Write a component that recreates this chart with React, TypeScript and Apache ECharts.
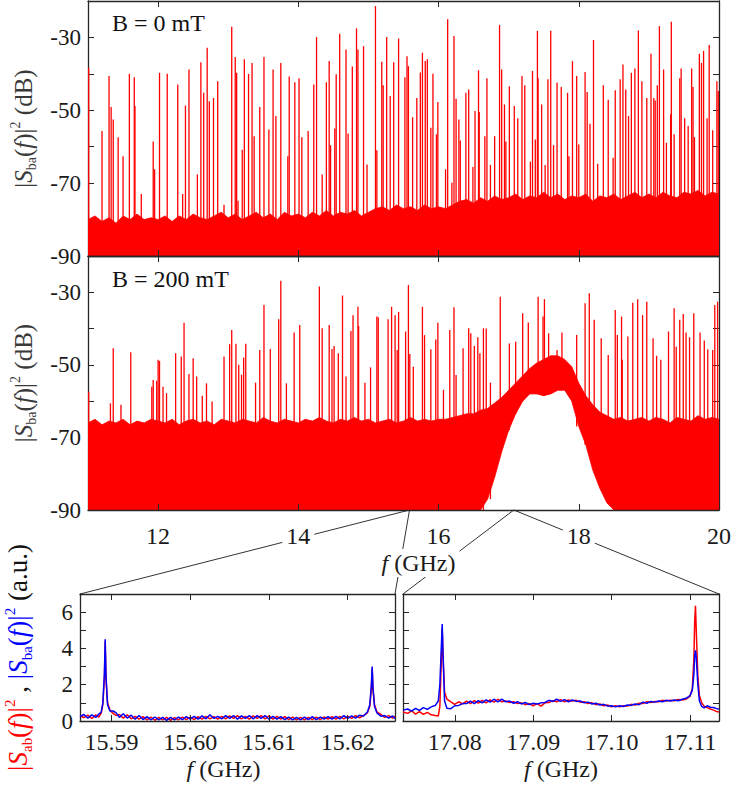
import React, { useEffect, useRef } from 'react';
import * as echarts from 'echarts';

const FONT = 'Liberation Serif, Times New Roman, serif';
const RED = '#ff0000';
const BLUE = '#0000ff';
const INK = '#1a1a1a';
const TITLE = '#3a3a3a';
const FRAME = '#262626';

// ---------- upper panels (dB spectra) ----------
const F_RANGE = [11, 20];
const DB_RANGE = [-90, -20];
const F_TICKS = [12, 14, 16, 18, 20];
const DB_TICKS = [-80, -70, -60, -50, -40, -30];
const DB_LABELS = [-90, -70, -50, -30];
const ENV_START = 11;
const ENV_STEP = 0.1;

// top of the noise floor, B = 0 mT, every 0.1 GHz from 11.0 to 20.0
const NOISE_TOP_0MT = [
  -80, -79, -80.5, -79.5, -81, -79, -80, -78.5, -80, -79.5,
  -80, -79, -80.5, -79, -80, -78.5, -79.5, -80, -79, -78,
  -79.5, -78.5, -80, -79, -78, -79.5, -78.5, -80, -78, -79,
  -78.5, -79.5, -78, -79, -77.5, -79, -78, -78.5, -77.5, -79,
  -78, -77, -76.5, -77.5, -76, -77, -76.5, -77.5, -76, -77,
  -76.5, -77, -76, -75, -74.5, -75.5, -74, -75, -73.5, -74.5,
  -74, -73, -74.5, -73.5, -74, -72.5, -74, -73, -74.5, -73.5,
  -74, -73, -75, -73.5, -74, -73, -74.5, -73.5, -72.5, -74,
  -73, -74, -72.5, -73.5, -74, -72.5, -73, -72, -73.5, -72.5,
  -73,
];

// top and bottom of the noise band, B = 200 mT
const NOISE_TOP_200MT = [
  -66, -65, -66.5, -65.5, -66, -65, -66.5, -65.5, -66, -65,
  -65.5, -66, -65, -66.5, -65.5, -65, -66, -65.5, -66.5, -65,
  -65.5, -66, -65, -65.5, -66, -64.5, -65.5, -66, -65, -65.5,
  -66, -65, -65.5, -64.5, -65.5, -66, -65, -65.5, -64.5, -65.5,
  -65, -66, -65.5, -65, -66, -65.5, -64.5, -65.5, -65, -65.5,
  -65, -65, -64.5, -64, -63.5, -63.5, -62.5, -62, -60.5, -59,
  -57, -55, -53, -51, -49.5, -48.5, -47.5, -47.5, -48.5, -50.5,
  -55, -58.5, -61, -63, -64, -65, -64.5, -65.5, -65, -64.5,
  -65.5, -64.5, -65, -66, -64.5, -65, -65.5, -64, -65, -64.5,
  -65,
];
const NOISE_BOTTOM_200MT = [
  -90, -90, -90, -90, -90, -90, -90, -90, -90, -90,
  -90, -90, -90, -90, -90, -90, -90, -90, -90, -90,
  -90, -90, -90, -90, -90, -90, -90, -90, -90, -90,
  -90, -90, -90, -90, -90, -90, -90, -90, -90, -90,
  -90, -90, -90, -90, -90, -90, -90, -90, -90, -90,
  -90, -90, -90, -90, -90, -90, -90, -87, -81, -74,
  -68, -63.5, -60, -58, -58, -58.5, -58, -57, -57, -60,
  -67, -72, -79, -84, -88, -90, -90, -90, -90, -90,
  -90, -90, -90, -90, -90, -90, -90, -90, -90, -90,
  -90,
];

// sharp resonances [f (GHz), dB]
const SPIKES_0MT = [
  [11.01, -38.3], [11.2, -55.7], [11.3, -40.6], [11.33, -49.1], [11.36, -52.5], [11.43, -57.4],
  [11.5, -62.6], [11.59, -40], [11.66, -40.9], [11.67, -48.8], [11.76, -73], [11.93, -58.6],
  [11.95, -66.2], [12.02, -39.7], [12.13, -40], [12.28, -42.9], [12.35, -73], [12.39, -48.7],
  [12.44, -38.8], [12.56, -67.6], [12.61, -36.8], [12.65, -45.2], [12.7, -32.8], [12.73, -47.5],
  [12.79, -46.6], [12.85, -42], [12.94, -75.9], [13.05, -27.1], [13.1, -35.4], [13.12, -39.7],
  [13.14, -74.8], [13.2, -60.8], [13.23, -36], [13.29, -40], [13.34, -37], [13.37, -57.1],
  [13.45, -49.1], [13.51, -35.4], [13.58, -55.3], [13.64, -38.8], [13.68, -51.6], [13.75, -37],
  [13.85, -62.6], [13.87, -40.7], [13.95, -42.3], [14.01, -41.2], [14.05, -57.4], [14.14, -55.7],
  [14.22, -42.9], [14.26, -29.9], [14.34, -67.6], [14.4, -42.3], [14.44, -36.5], [14.46, -59.6],
  [14.52, -55], [14.54, -40.1], [14.59, -29], [14.68, -33.3], [14.71, -56.4], [14.77, -38],
  [14.83, -27.5], [14.85, -33.3], [14.93, -32.4], [14.98, -64.9], [15.1, -21.4], [15.12, -61],
  [15.19, -36.7], [15.21, -43.1], [15.26, -29.9], [15.31, -46.1], [15.36, -36.8], [15.43, -30.3],
  [15.52, -40.9], [15.55, -35.2], [15.57, -37.9], [15.63, -51.9], [15.69, -46.6], [15.74, -39.6],
  [15.77, -34.2], [15.81, -36.5], [15.84, -36], [15.89, -54.8], [15.92, -40], [15.97, -56.6],
  [15.99, -47.7], [16.1, -66.2], [16.13, -25], [16.19, -69.9], [16.22, -29.6], [16.25, -46.8],
  [16.29, -52.5], [16.31, -58.3], [16.39, -45.2], [16.43, -44.3], [16.49, -65.6], [16.52, -50.2],
  [16.57, -39], [16.58, -50.5], [16.66, -57.1], [16.69, -41.2], [16.74, -65], [16.8, -57.1],
  [16.87, -26.6], [16.9, -38.8], [16.94, -48.4], [16.96, -58.6], [17.01, -43.4], [17.08, -48.8],
  [17.13, -52.2], [17.19, -40.6], [17.23, -43.1], [17.31, -64.1], [17.34, -39.2], [17.38, -58],
  [17.41, -28.2], [17.42, -41.2], [17.47, -48.4], [17.52, -65], [17.56, -41.5], [17.6, -28.2],
  [17.64, -59.6], [17.69, -42.4], [17.75, -43.6], [17.84, -45.2], [17.86, -62.6], [17.91, -36.5],
  [17.97, -40.6], [18.0, -59.4], [18.09, -39.5], [18.12, -45], [18.16, -53.7], [18.21, -30.7],
  [18.27, -64.7], [18.35, -43.1], [18.42, -47.1], [18.49, -63], [18.52, -44.5], [18.59, -41.5],
  [18.63, -37.4], [18.67, -44.3], [18.71, -51.6], [18.75, -39.7], [18.8, -38.5], [18.85, -28.1],
  [18.9, -42], [18.97, -46.6], [19.03, -34.5], [19.07, -46.6], [19.09, -47.3], [19.12, -43.1],
  [19.15, -26.9], [19.21, -38.8], [19.25, -58.9], [19.31, -51.1], [19.32, -25.7], [19.36, -56.6],
  [19.44, -41.2], [19.46, -38.5], [19.51, -52.2], [19.56, -54.3], [19.61, -38.5], [19.63, -43.6],
  [19.65, -57.4], [19.72, -34.5], [19.75, -37], [19.78, -33.7], [19.83, -52.2], [19.86, -32.1],
  [19.91, -55.5], [19.97, -42], [19.99, -44.7],
];

const SPIKES_200MT = [
  [11.01, -57.4], [11.32, -60.6], [11.36, -45.4], [11.47, -61], [11.61, -46.5], [11.91, -56],
  [11.93, -54.2], [11.98, -54.4], [12.0, -48.6], [12.02, -48.9], [12.07, -56], [12.12, -57.8],
  [12.25, -46.8], [12.33, -47.7], [12.37, -38.4], [12.44, -52.5], [12.5, -48.2], [12.55, -53.2],
  [12.63, -58.5], [12.69, -55.1], [12.77, -60.1], [12.94, -47.7], [13.02, -44.3], [13.05, -40.4],
  [13.11, -44.2], [13.15, -50], [13.19, -52.7], [13.22, -48], [13.25, -44.2], [13.39, -54.9],
  [13.45, -45.9], [13.51, -33.5], [13.6, -45.6], [13.72, -37.4], [13.75, -26.8], [13.83, -55.1],
  [13.94, -41.1], [14.02, -39], [14.3, -28.4], [14.34, -39.9], [14.44, -39], [14.48, -45.6],
  [14.51, -44.8], [14.57, -46.8], [14.63, -30.9], [14.68, -53.2], [14.75, -40.7], [14.78, -36.3],
  [14.85, -34], [14.86, -39.3], [14.95, -54.9], [15.03, -50.7], [15.12, -36.7], [15.14, -36.9],
  [15.28, -37.4], [15.33, -34], [15.38, -36.3], [15.41, -45.9], [15.43, -35.4], [15.53, -40.8],
  [15.57, -28], [15.59, -47], [15.64, -50.5], [15.77, -34], [15.8, -41.8], [15.89, -45.7],
  [15.96, -43], [15.99, -38.4], [16.07, -56.9], [16.16, -40.4], [16.22, -34.1], [16.25, -52.8],
  [16.35, -45.4], [16.43, -39.9], [16.46, -41.3], [16.51, -44.8], [16.56, -42.4], [16.59, -46.8],
  [16.64, -39.9], [16.68, -40], [16.74, -54.9], [16.88, -31.2], [17.01, -44.1], [17.1, -43.6],
  [17.2, -35.8], [17.28, -38.3], [17.42, -31.2], [17.49, -36.7], [17.51, -31.9], [17.57, -41.3],
  [17.69, -45.9], [17.76, -41.1], [17.97, -41.8], [18.09, -33], [18.15, -30.3], [18.22, -37.6],
  [18.32, -42.7], [18.42, -47.3], [18.52, -34.9], [18.55, -41.8], [18.61, -36.7], [18.62, -48.6],
  [18.7, -42.2], [18.77, -32.9], [18.84, -31.9], [18.91, -36.3], [18.97, -32.6], [19.06, -42.7],
  [19.11, -47.5], [19.17, -48.6], [19.28, -40.8], [19.36, -34.4], [19.39, -45], [19.44, -37.6],
  [19.49, -36], [19.53, -41.1], [19.58, -42.4], [19.64, -35.8], [19.73, -41.1], [19.79, -43.3],
  [19.84, -45.7], [19.91, -45.9], [19.94, -33.5], [19.98, -32.6],
];

// ---------- lower panels (linear zooms) ----------
const AU_RANGE = [0, 7];
const AU_TICKS = [1, 2, 3, 4, 5, 6];
const AU_LABELS = [0, 2, 4, 6];

const ZOOM_A_RANGE = [15.586, 15.626];
const ZOOM_A_TICKS = [15.59, 15.6, 15.61, 15.62];
// [f, |S_ab|^2, |S_ba|^2]
const ZOOM_A = [
  [15.586, 0.3, 0.25], [15.5865, 0.18, 0.36], [15.587, 0.32, 0.16], [15.5875, 0.14, 0.34],
  [15.588, 0.34, 0.2], [15.5884, 0.22, 0.38], [15.5887, 0.45, 0.5], [15.5889, 0.9, 1.0],
  [15.5891, 2.4, 2.6], [15.5892, 4.4, 4.5], [15.5893, 2.3, 2.5], [15.5895, 1.0, 0.9],
  [15.5898, 0.6, 0.55], [15.5902, 0.42, 0.55], [15.5906, 0.3, 0.45], [15.591, 0.36, 0.2],
  [15.5915, 0.16, 0.4], [15.592, 0.34, 0.16], [15.5925, 0.12, 0.32], [15.593, 0.26, 0.1],
  [15.5935, 0.1, 0.3], [15.594, 0.24, 0.08], [15.5945, 0.06, 0.24], [15.595, 0.22, 0.06],
  [15.5955, 0.04, 0.22], [15.596, 0.2, 0.06], [15.5965, 0.06, 0.2], [15.597, 0.2, 0.04],
  [15.5975, 0.04, 0.2], [15.598, 0.18, 0.06], [15.5985, 0.06, 0.22], [15.599, 0.22, 0.08],
  [15.5995, 0.08, 0.24], [15.6, 0.22, 0.1], [15.6005, 0.08, 0.26], [15.601, 0.24, 0.1],
  [15.6015, 0.1, 0.28], [15.602, 0.26, 0.12], [15.6025, 0.12, 0.34], [15.603, 0.24, 0.14],
  [15.6035, 0.1, 0.26], [15.604, 0.26, 0.12], [15.6045, 0.12, 0.3], [15.605, 0.28, 0.14],
  [15.6055, 0.14, 0.3], [15.606, 0.3, 0.1], [15.6065, 0.12, 0.28], [15.607, 0.26, 0.14],
  [15.6075, 0.1, 0.3], [15.608, 0.28, 0.12], [15.6085, 0.14, 0.3], [15.609, 0.3, 0.14],
  [15.6095, 0.12, 0.3], [15.61, 0.28, 0.1], [15.6105, 0.1, 0.26], [15.611, 0.26, 0.1],
  [15.6115, 0.1, 0.24], [15.612, 0.24, 0.08], [15.6125, 0.08, 0.22], [15.613, 0.22, 0.06],
  [15.6135, 0.06, 0.2], [15.614, 0.2, 0.06], [15.6145, 0.06, 0.22], [15.615, 0.2, 0.08],
  [15.6155, 0.08, 0.24], [15.616, 0.22, 0.08], [15.6165, 0.08, 0.22], [15.617, 0.22, 0.1],
  [15.6175, 0.1, 0.24], [15.618, 0.24, 0.1], [15.6185, 0.1, 0.26], [15.619, 0.26, 0.12],
  [15.6195, 0.12, 0.3], [15.62, 0.26, 0.14], [15.6205, 0.14, 0.28], [15.621, 0.3, 0.16],
  [15.6215, 0.18, 0.32], [15.622, 0.3, 0.28], [15.6225, 0.45, 0.5], [15.6228, 0.8, 0.9],
  [15.623, 1.8, 2.0], [15.6231, 2.9, 3.0], [15.6232, 1.7, 1.9], [15.6234, 0.9, 0.8],
  [15.6237, 0.5, 0.45], [15.6242, 0.36, 0.26], [15.6247, 0.2, 0.3], [15.6252, 0.3, 0.16],
  [15.6257, 0.16, 0.28], [15.626, 0.26, 0.14],
];

const ZOOM_B_RANGE = [17.0734, 17.1137];
const ZOOM_B_TICKS = [17.08, 17.09, 17.1, 17.11];
const ZOOM_B = [
  [17.0734, 0.5, 0.6], [17.074, 0.42, 0.66], [17.0745, 0.56, 0.54], [17.075, 0.38, 0.7],
  [17.0755, 0.52, 0.58], [17.076, 0.36, 0.74], [17.0765, 0.48, 0.64], [17.077, 0.34, 0.78],
  [17.0775, 0.3, 0.85], [17.0779, 0.28, 1.1], [17.0781, 0.8, 2.0], [17.0783, 3.5, 4.2],
  [17.0784, 5.1, 5.35], [17.0785, 3.6, 3.8], [17.0787, 1.6, 1.1], [17.079, 1.2, 0.7],
  [17.0795, 1.06, 0.68], [17.08, 0.92, 0.84], [17.0805, 1.06, 0.86], [17.081, 0.94, 0.96],
  [17.0815, 1.1, 0.96], [17.082, 0.96, 1.1], [17.0825, 1.12, 0.96], [17.083, 0.98, 1.12],
  [17.0835, 1.14, 1.0], [17.084, 1.0, 1.16], [17.0845, 1.16, 1.04], [17.085, 1.04, 1.2],
  [17.0855, 1.2, 1.06], [17.086, 1.06, 1.2], [17.0865, 1.1, 1.06], [17.087, 1.02, 1.1],
  [17.0875, 1.06, 0.98], [17.088, 0.96, 1.06], [17.0885, 1.0, 0.94], [17.089, 0.9, 1.02],
  [17.0895, 0.96, 0.9], [17.09, 0.84, 0.98], [17.0905, 0.96, 0.94], [17.091, 0.82, 1.0],
  [17.0915, 1.0, 1.02], [17.092, 1.02, 1.14], [17.0925, 1.12, 1.08], [17.093, 1.06, 1.2],
  [17.0935, 1.18, 1.08], [17.094, 1.06, 1.18], [17.0945, 1.16, 1.06], [17.095, 1.1, 1.16],
  [17.0955, 1.14, 1.08], [17.096, 1.04, 1.1], [17.0965, 1.06, 1.0], [17.097, 0.96, 1.04],
  [17.0975, 1.0, 0.94], [17.098, 0.9, 0.98], [17.0985, 0.94, 0.88], [17.099, 0.84, 0.92],
  [17.0995, 0.88, 0.82], [17.1, 0.78, 0.84], [17.1005, 0.84, 0.78], [17.101, 0.78, 0.84],
  [17.1015, 0.84, 0.8], [17.102, 0.82, 0.88], [17.1025, 0.92, 0.86], [17.103, 0.88, 0.94],
  [17.1035, 0.98, 0.9], [17.104, 0.96, 1.04], [17.1045, 1.06, 0.98], [17.105, 1.02, 1.08],
  [17.1055, 1.08, 1.04], [17.106, 1.06, 1.1], [17.1065, 1.14, 1.06], [17.107, 1.1, 1.14],
  [17.1075, 1.14, 1.1], [17.108, 1.12, 1.16], [17.1085, 1.18, 1.12], [17.109, 1.16, 1.2],
  [17.1095, 1.2, 1.25], [17.11, 1.35, 1.4], [17.1103, 1.8, 1.7], [17.1105, 3.5, 2.6],
  [17.1106, 5.5, 3.6], [17.1107, 6.35, 3.9], [17.1108, 5.0, 3.5], [17.111, 2.5, 2.0],
  [17.1112, 1.4, 1.1], [17.1115, 1.0, 0.8], [17.1118, 0.82, 0.72], [17.1122, 0.74, 0.84],
  [17.1126, 0.66, 0.76], [17.113, 0.6, 0.74], [17.1134, 0.52, 0.68], [17.1137, 0.5, 0.66],
];

const FIELD_LABELS = ['B = 0 mT', 'B = 200 mT'];

// ---------- option builders ----------
const envF = (i: number) => Math.round((ENV_START + i * ENV_STEP) * 10) / 10;

function bandSeries(p: number, top: number[], bottom: number[] | null) {
  const data = top.map((t, i) => [envF(i), t, bottom ? bottom[i] : DB_RANGE[0]]);
  return {
    type: 'custom',
    xAxisIndex: 2 * p,
    yAxisIndex: 2 * p,
    silent: true,
    clip: true,
    encode: { x: 0, y: [1, 2] },
    data,
    z: 2,
    renderItem: (params: any, api: any) => {
      if (params.dataIndex !== 0) return null;
      const up = data.map((d) => api.coord([d[0], d[1]]));
      const lo = data.map((d) => api.coord([d[0], d[2]])).reverse();
      return {
        type: 'polygon',
        shape: { points: up.concat(lo) },
        style: { fill: RED, stroke: RED, lineWidth: 0.8 },
      };
    },
  };
}

function spikeSeries(p: number, spikes: number[][], bottom: number[] | null) {
  const data = spikes.map(([f, v]) => {
    const idx = Math.min(bottom ? bottom.length - 1 : 0, Math.max(0, Math.round((f - ENV_START) / ENV_STEP)));
    return [f, v, bottom ? bottom[idx] : DB_RANGE[0]];
  });
  return {
    type: 'custom',
    xAxisIndex: 2 * p,
    yAxisIndex: 2 * p,
    silent: true,
    clip: true,
    encode: { x: 0, y: [1, 2] },
    data,
    z: 3,
    renderItem: (_params: any, api: any) => {
      const a = api.coord([api.value(0), api.value(2)]);
      const b = api.coord([api.value(0), api.value(1)]);
      return {
        type: 'line',
        shape: { x1: a[0], y1: a[1], x2: b[0], y2: b[1] },
        style: { stroke: RED, lineWidth: 1.3 },
      };
    },
  };
}

function traceSeries(p: number, rows: number[][], col: number, color: string, z: number) {
  return {
    type: 'line',
    xAxisIndex: 2 * p,
    yAxisIndex: 2 * p,
    data: rows.map((r) => [r[0], r[col]]),
    symbol: 'none',
    showSymbol: false,
    silent: true,
    z,
    lineStyle: { color, width: 1.5 },
    itemStyle: { color },
  };
}

const tickStyle = { color: FRAME, width: 1 };
const lineStyle = { color: FRAME, width: 1.3 };

const dbRichStyle = (extra: any) => ({ fontFamily: FONT, color: TITLE, ...extra });
const DB_NAME = '{n||}{i|S}{s|ba}{n|(}{i|f}{n|)|}{p|2}{n| (dB)}';
const DB_RICH = {
  n: dbRichStyle({ fontSize: 25, lineHeight: 30 }),
  i: dbRichStyle({ fontSize: 25, lineHeight: 30, fontStyle: 'italic' }),
  s: dbRichStyle({ fontSize: 14, lineHeight: 14, verticalAlign: 'bottom' }),
  p: dbRichStyle({ fontSize: 14, lineHeight: 14, verticalAlign: 'top' }),
};
const AU_NAME =
  '{rn||}{ri|S}{rs|ab}{rn|(}{ri|f}{rn|)|}{rp|2}{k| , }{bn||}{bi|S}{bs|ba}{bn|(}{bi|f}{bn|)|}{bp|2}{k| (a.u.)}';
const mk = (color: string, pre: string) => ({
  [pre + 'n']: { fontFamily: FONT, color, fontSize: 27, lineHeight: 32 },
  [pre + 'i']: { fontFamily: FONT, color, fontSize: 27, lineHeight: 32, fontStyle: 'italic' },
  [pre + 's']: { fontFamily: FONT, color, fontSize: 15, lineHeight: 15, verticalAlign: 'bottom' },
  [pre + 'p']: { fontFamily: FONT, color, fontSize: 15, lineHeight: 15, verticalAlign: 'top' },
});
const AU_RICH = {
  ...mk(RED, 'r'),
  ...mk(BLUE, 'b'),
  k: { fontFamily: FONT, color: '#111', fontSize: 27, lineHeight: 32 },
};
const F_NAME = '{i|f} (GHz)';
const fNameStyle = (padding: number[]) => ({
  fontFamily: FONT,
  fontSize: 24,
  color: INK,
  backgroundColor: '#fff',
  padding,
  rich: { i: { fontFamily: FONT, fontSize: 24, fontStyle: 'italic', color: INK } },
});

interface PanelDef {
  grid: { left: number; top: number; width: number; height: number };
  x: number[];
  xTicks: number[];
  xLabels: number[] | null;
  xFmt: (v: number) => string;
  xName: string | null;
  xNameStyle?: any;
  xNameGap?: number;
  xLabelMargin?: number;
  y: number[];
  yTicks: number[];
  yLabels: number[] | null;
  yName: string | null;
  yRich?: any;
  yNameGap?: number;
}

const PANELS: PanelDef[] = [
  {
    grid: { left: 83, top: 1, width: 636, height: 255 },
    x: F_RANGE, xTicks: F_TICKS, xLabels: null, xFmt: (v) => String(v), xName: null,
    y: DB_RANGE, yTicks: DB_TICKS, yLabels: DB_LABELS, yName: DB_NAME, yRich: DB_RICH, yNameGap: 50,
  },
  {
    grid: { left: 83, top: 256, width: 636, height: 254 },
    x: F_RANGE, xTicks: F_TICKS, xLabels: F_TICKS, xFmt: (v) => String(v),
    xName: F_NAME, xNameStyle: fNameStyle([2, 4, 2, 34]), xNameGap: 38, xLabelMargin: 14,
    y: DB_RANGE, yTicks: DB_TICKS, yLabels: DB_LABELS, yName: DB_NAME, yRich: DB_RICH, yNameGap: 50,
  },
  {
    grid: { left: 80, top: 594, width: 315, height: 127 },
    x: ZOOM_A_RANGE, xTicks: ZOOM_A_TICKS, xLabels: ZOOM_A_TICKS, xFmt: (v) => v.toFixed(2),
    xName: F_NAME, xNameStyle: fNameStyle([0, 28, 0, 0]), xNameGap: 36, xLabelMargin: 9,
    y: AU_RANGE, yTicks: AU_TICKS, yLabels: AU_LABELS, yName: AU_NAME, yRich: AU_RICH, yNameGap: 46,
  },
  {
    grid: { left: 403, top: 594, width: 316, height: 127 },
    x: ZOOM_B_RANGE, xTicks: ZOOM_B_TICKS, xLabels: ZOOM_B_TICKS, xFmt: (v) => v.toFixed(2),
    xName: F_NAME, xNameStyle: fNameStyle([0, 0, 0, 0]), xNameGap: 36, xLabelMargin: 9,
    y: AU_RANGE, yTicks: AU_TICKS, yLabels: null, yName: null,
  },
];

function buildOption() {
  const xAxis: any[] = [];
  const yAxis: any[] = [];
  PANELS.forEach((p, gi) => {
    ['bottom', 'top'].forEach((pos, k) => {
      const withLabels = k === 0 && p.xLabels;
      xAxis.push({
        type: 'value',
        gridIndex: gi,
        position: pos,
        min: p.x[0],
        max: p.x[1],
        z: 10,
        axisLine: { show: true, onZero: false, lineStyle },
        splitLine: { show: false },
        axisTick: { show: true, inside: true, length: 6, lineStyle: tickStyle, customValues: p.xTicks },
        axisLabel: withLabels
          ? {
              show: true,
              customValues: p.xLabels,
              formatter: p.xFmt,
              fontFamily: FONT,
              fontSize: 24,
              color: INK,
              margin: p.xLabelMargin,
              backgroundColor: '#fff',
              padding: [0, 4],
            }
          : { show: false },
        name: k === 0 && p.xName ? p.xName : '',
        nameLocation: 'middle',
        nameGap: p.xNameGap,
        nameTextStyle: p.xNameStyle,
      });
    });
    ['left', 'right'].forEach((pos, k) => {
      const withLabels = k === 0 && p.yLabels;
      yAxis.push({
        type: 'value',
        gridIndex: gi,
        position: pos,
        min: p.y[0],
        max: p.y[1],
        axisLine: { show: true, onZero: false, lineStyle },
        splitLine: { show: false },
        axisTick: { show: true, inside: true, length: 6, lineStyle: tickStyle, customValues: p.yTicks },
        axisLabel: withLabels
          ? {
              show: true,
              customValues: p.yLabels,
              fontFamily: FONT,
              fontSize: 23,
              color: INK,
              margin: 7,
            }
          : { show: false },
        name: k === 0 && p.yName ? p.yName : '',
        nameLocation: 'middle',
        nameRotate: 90,
        nameGap: p.yNameGap,
        nameTextStyle: { rich: p.yRich, fontFamily: FONT },
      });
    });
  });

  return {
    animation: false,
    backgroundColor: '#fff',
    textStyle: { fontFamily: FONT },
    grid: PANELS.map((p) => ({ ...p.grid, containLabel: false })),
    xAxis,
    yAxis,
    series: [
      bandSeries(0, NOISE_TOP_0MT, null),
      spikeSeries(0, SPIKES_0MT, null),
      bandSeries(1, NOISE_TOP_200MT, NOISE_BOTTOM_200MT),
      spikeSeries(1, SPIKES_200MT, NOISE_BOTTOM_200MT),
      traceSeries(2, ZOOM_A, 1, RED, 3),
      traceSeries(2, ZOOM_A, 2, BLUE, 4),
      traceSeries(3, ZOOM_B, 1, RED, 3),
      traceSeries(3, ZOOM_B, 2, BLUE, 4),
    ],
  };
}

function buildGraphic(chart: any) {
  const px = (axis: number, v: number) => chart.convertToPixel({ xAxisIndex: axis }, v);
  const py = (axis: number, v: number) => chart.convertToPixel({ yAxisIndex: axis }, v);
  const midY = py(2, DB_RANGE[0]);
  const aX = px(2, ZOOM_A_RANGE[0]);
  const bX = px(2, ZOOM_B_RANGE[0]);
  const lowTop = py(4, AU_RANGE[1]);
  const aL = px(4, ZOOM_A_RANGE[0]);
  const aR = px(4, ZOOM_A_RANGE[1]);
  const bL = px(6, ZOOM_B_RANGE[0]);
  const bR = px(6, ZOOM_B_RANGE[1]);
  const seg = (x1: number, y1: number, x2: number, y2: number) => ({
    type: 'line',
    z: 1,
    silent: true,
    shape: { x1, y1, x2, y2 },
    style: { stroke: '#333', lineWidth: 1 },
  });
  const fieldText = (i: number, y: number) => ({
    type: 'text',
    x: px(0, F_RANGE[0]) + 24,
    y,
    z: 20,
    silent: true,
    style: {
      text: FIELD_LABELS[i],
      fontFamily: FONT,
      fontSize: 24,
      fill: '#111',
      verticalAlign: 'middle',
    },
  });
  return [
    seg(aX, midY, aL, lowTop),
    seg(aX, midY, aR, lowTop),
    seg(bX, midY, bL, lowTop),
    seg(bX, midY, bR, lowTop),
    fieldText(0, 23),
    fieldText(1, 279),
  ];
}

export default function App() {
  const ref = useRef<HTMLDivElement>(null);
  useEffect(() => {
    if (!ref.current) return;
    const chart = echarts.init(ref.current, undefined, { renderer: 'svg' });
    chart.setOption(buildOption() as any);
    chart.setOption({ graphic: buildGraphic(chart) } as any);
    return () => chart.dispose();
  }, []);
  return (
    <div
      ref={ref}
      style={{ position: 'absolute', left: 0, top: 0, width: 747, height: 785, background: '#fff' }}
    />
  );
}
